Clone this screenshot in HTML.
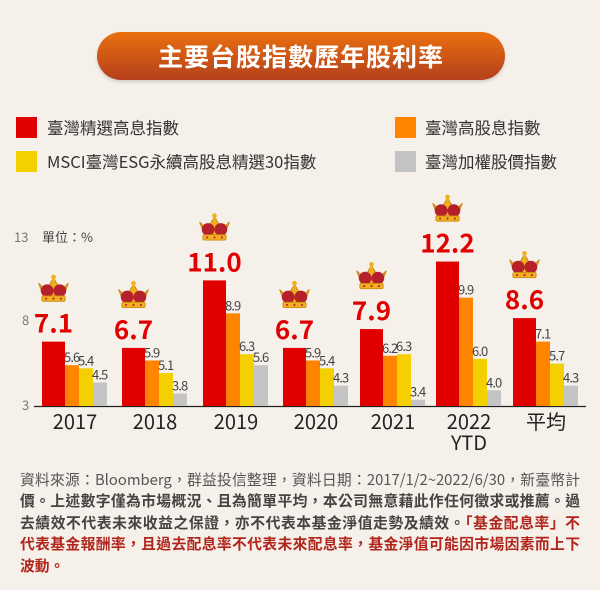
<!DOCTYPE html>
<html><head><meta charset="utf-8"><style>
body{margin:0;background:#f6f0ea;}
#w{position:relative;width:600px;height:590px;background:#f6f0ea;font-family:"Noto Sans CJK TC","Liberation Sans",sans-serif;overflow:hidden}
.pill{position:absolute;left:97px;top:32px;width:408px;height:48px;border-radius:24px;background:linear-gradient(#e9700f,#b4401c);color:#fff;font-weight:bold;font-size:25px;text-align:center;line-height:48px;letter-spacing:1px;box-shadow:0 2px 3px rgba(0,0,0,.15)}
.lg{position:absolute;font-size:16.5px;color:#333;line-height:22px;white-space:nowrap}
.sq{position:absolute;width:21px;height:21px}
.foot{position:absolute;left:20px;top:469px;width:560px;font-size:14.8px;line-height:21.4px;color:#555}
.foot div{white-space:nowrap;text-align:justify;text-align-last:justify;height:21.4px}
.foot div.l{text-align-last:left}
.foot b{color:#444}
.foot .r{color:#b0261c}
</style></head><body><div id="w">
<div class="pill">主要台股指數歷年股利率</div>
<div class="sq" style="left:16px;top:117px;background:#e00000"></div><div class="lg" style="left:47px;top:116px">臺灣精選高息指數</div>
<div class="sq" style="left:395px;top:117px;background:#ff8400"></div><div class="lg" style="left:425px;top:116px">臺灣高股息指數</div>
<div class="sq" style="left:16px;top:151px;background:#f4d000"></div><div class="lg" style="left:47px;top:150px">MSCI臺灣ESG永續高股息精選30指數</div>
<div class="sq" style="left:395px;top:151px;background:#c4c4c4"></div><div class="lg" style="left:425px;top:150px">臺灣加權股價指數</div>
<svg style="position:absolute;left:0;top:0" width="600" height="590">
<defs><symbol id="cr" viewBox="0 0 34 30">
<path d="M3 9 L8 22 L26 22 L31 9 L24 16 L17 4 L10 16 Z" fill="#f0b020" stroke="#c98a10" stroke-width="1"/>
<ellipse cx="11" cy="16" rx="6" ry="6" fill="#b5202a"/><ellipse cx="23" cy="16" rx="6" ry="6" fill="#b5202a"/>
<circle cx="17" cy="3" r="2.2" fill="#f0b020"/><rect x="15.8" y="3" width="2.4" height="8" fill="#f0b020"/>
<rect x="6" y="21" width="22" height="5" rx="1.5" fill="#f0b020" stroke="#c98a10" stroke-width=".8"/>
<circle cx="10" cy="23.5" r="1" fill="#c0202a"/><circle cx="17" cy="23.5" r="1" fill="#c0202a"/><circle cx="24" cy="23.5" r="1" fill="#c0202a"/>
</symbol></defs>
<g font-size="13" fill="#777"><text x="14" y="242">13</text><text x="42" y="242" fill="#444">單位：%</text><text x="22" y="325">8</text><text x="22" y="410">3</text></g>
<line x1="34" y1="406.5" x2="586" y2="406.5" stroke="#222" stroke-width="1.3"/>
<g id="bars"></g>
</svg>
<div class="foot">
<div>資料來源：Bloomberg，群益投信整理，資料日期：2017/1/2~2022/6/30，新臺幣計</div>
<div><b>價。上述數字僅為市場概況、且為簡單平均，本公司無意藉此作任何徵求或推薦。過</b></div>
<div><b>去績效不代表未來收益之保證，亦不代表本基金淨值走勢及績效。</b><b class="r">「基金配息率」不</b></div>
<div><b class="r">代表基金報酬率，且過去配息率不代表未來配息率，基金淨值可能因市場因素而上下</b></div>
<div class="l"><b class="r">波動。</b></div>
</div>
</div>
<script>
var g=document.getElementById('bars'),NS='http://www.w3.org/2000/svg';
var xs=[42,122,203,283,360,436,513],yrs=['2017','2018','2019','2020','2021','2022','平均'];
var d=[[7.1,5.6,5.4,4.5],[6.7,5.9,5.1,3.8],[11.0,8.9,6.3,5.6],[6.7,5.9,5.4,4.3],[7.9,6.2,6.3,3.4],[12.2,9.9,6.0,4.0],[8.6,7.1,5.7,4.3]];
var cols=['#e00000','#ff8400','#f4d000','#c4c4c4'],off=[0,23,37,51],wd=[23,14,14,14];
function el(t,a,txt){var e=document.createElementNS(NS,t);for(var k in a)e.setAttribute(k,a[k]);if(txt)e.textContent=txt;g.appendChild(e);return e;}
d.forEach(function(v,i){var x0=xs[i];
v.forEach(function(val,j){var h=(val-3)*15.7,y=406-h;el('rect',{x:x0+off[j],y:y,width:wd[j],height:h,fill:cols[j]});
if(j==0){var cx=x0+11.5;el('text',{x:cx,y:y-9,'text-anchor':'middle','font-size':'26','font-weight':'bold',fill:'#e00000'},val.toFixed(1));
el('use',{href:'#cr',x:cx-18,y:y-68,width:36,height:32});}
else el('text',{x:x0+off[j]-1,y:y-3,'font-size':'13',fill:'#444','letter-spacing':'-0.9'},val.toFixed(1));});
el('text',{x:x0+33,y:429,'text-anchor':'middle','font-size':'20',fill:'#222'},yrs[i]);
});
el('text',{x:436+33,y:450,'text-anchor':'middle','font-size':'20',fill:'#222'},'YTD');
</script>
</body></html>
